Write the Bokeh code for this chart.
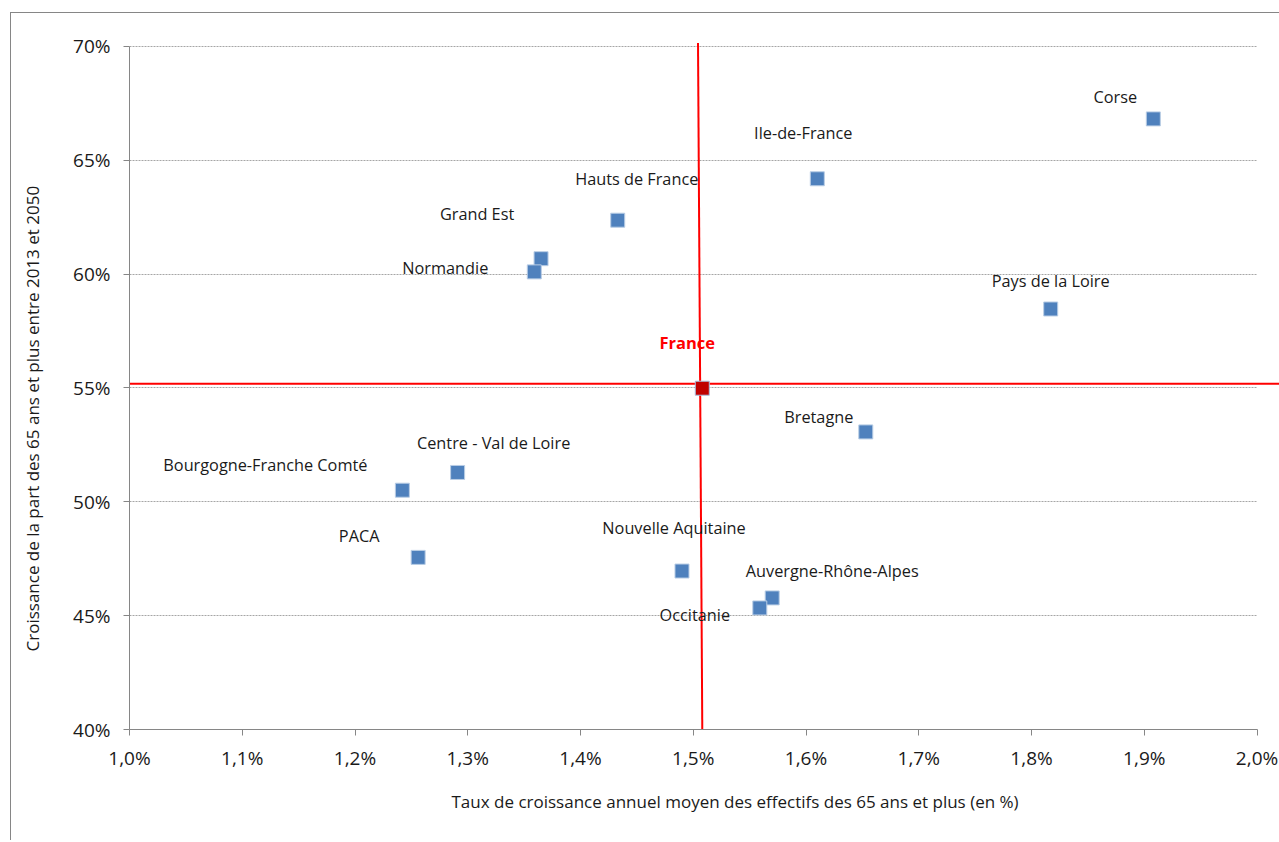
from bokeh.plotting import figure
from bokeh.models import ColumnDataSource, FixedTicker, Title
from bokeh.core.properties import value
from bokeh.embed import file_html
from bokeh.resources import INLINE

# ---- data ----
regions = ["Corse", "Ile-de-France", "Hauts de France", "Grand Est", "Normandie",
           "Pays de la Loire", "Bretagne", "Centre - Val de Loire",
           "Bourgogne-Franche Comté", "PACA", "Nouvelle Aquitaine",
           "Auvergne-Rhône-Alpes", "Occitanie"]
growth_rate = [1.908, 1.610, 1.433, 1.365, 1.359, 1.817, 1.653, 1.291,
               1.242, 1.256, 1.490, 1.570, 1.559]
share_growth = [66.82, 64.19, 62.37, 60.68, 60.10, 58.47, 53.07, 51.29,
                50.51, 47.56, 46.96, 45.78, 45.34]

france_label = ["France"]
france_rate = [1.508]
france_share = [54.99]

# hand-drawn reference lines of the original chart
ref_h_share = 55.19
ref_v_rate = [1.5042, 1.5080]
ref_v_share = [70.15, 40.0]

x_ticks = [1.0, 1.1, 1.2, 1.3, 1.4, 1.5, 1.6, 1.7, 1.8, 1.9, 2.0]
x_tick_labels = ["1,0%", "1,1%", "1,2%", "1,3%", "1,4%", "1,5%", "1,6%",
                 "1,7%", "1,8%", "1,9%", "2,0%"]
y_ticks = [40, 45, 50, 55, 60, 65, 70]
y_tick_labels = ["40%", "45%", "50%", "55%", "60%", "65%", "70%"]

x_title = "Taux de croissance annuel moyen des effectifs des 65 ans et plus (en %)"
y_title = "Croissance de la part des 65 ans et plus entre 2013 et 2050"

# label offsets (pixels) relative to each point
label_dx = [-38, -14, 19, -64, -89, 0, -47, 36, -137, -59, -8, 60, -65]
label_dy = [-22, -46, -41, -45, -4, -28, -15, -29, -25, -21, -43, -27, 7]

FONT = "Open Sans"
X_END = 2.0208

p = figure(width=1269, height=828, output_backend="svg", toolbar_location=None,
           x_range=(1.0, X_END), y_range=(40.0, 70.307),
           min_border_left=118, min_border_right=0, min_border_top=26,
           min_border_bottom=112)
p.margin = (12, 0, 0, 10)
p.outline_line_color = None
p.background_fill_color = "white"
p.border_fill_color = "white"
p.styles = {"border-left": "1px solid #868686", "border-top": "1px solid #868686"}

for ax, ticks, labels in ((p.xaxis, x_ticks, x_tick_labels), (p.yaxis, y_ticks, y_tick_labels)):
    ax.ticker = FixedTicker(ticks=ticks)
    ax.major_label_overrides = {t: l for t, l in zip(ticks, labels)}
    ax.axis_line_color = "#868686"
    ax.major_tick_line_color = "#868686"
    ax.major_tick_out = 6
    ax.major_tick_in = 0
    ax.minor_tick_line_color = None
    ax.major_label_text_font = FONT
    ax.major_label_text_font_size = "19px"
    ax.major_label_text_color = "#1a1a1a"

p.xaxis.bounds = (1.0, 2.0)
p.yaxis.bounds = (40, 70)
p.xaxis.major_label_standoff = 9
p.yaxis.major_label_standoff = 13
# blank spacer label to push the y title outward
p.yaxis.axis_label = " "
p.yaxis.axis_label_text_font_size = "1px"
p.yaxis.axis_label_standoff = 15

p.xgrid.grid_line_color = None
p.ygrid.ticker = FixedTicker(ticks=y_ticks[1:])
p.ygrid.grid_line_color = "#a6a6a6"
p.ygrid.grid_line_dash = "2 1"
p.ygrid.grid_line_width = 1
p.ygrid.cross_bounds = (1.0, 2.0)

# reference lines
p.segment(x0=[1.0], y0=[ref_h_share], x1=[X_END], y1=[ref_h_share],
          line_color="#ff0000", line_width=2)
p.line(ref_v_rate, ref_v_share, line_color="#ff0000", line_width=2)

src = ColumnDataSource(dict(x=growth_rate, y=share_growth, name=regions,
                            dx=label_dx, dy=label_dy))
p.scatter("x", "y", source=src, marker="square", size=14,
          fill_color="#4f81bd", line_color="#b9cde5", line_width=1)
p.text("x", "y", text="name", source=src, x_offset="dx", y_offset="dy",
       text_align="center", text_baseline="middle",
       text_font=value(FONT), text_font_size="16.3px", text_color="#1a1a1a")

fsrc = ColumnDataSource(dict(x=france_rate, y=france_share, name=france_label))
p.scatter("x", "y", source=fsrc, marker="square", size=14,
          fill_color="#c00000", line_color="#a8bfe0", line_width=1)
p.text("x", "y", text="name", source=fsrc, x_offset=-15, y_offset=-46,
       text_align="center", text_baseline="middle",
       text_font=value(FONT), text_font_size="16.5px", text_font_style="bold",
       text_color="#ff0000")

# axis titles
p.add_layout(Title(text=x_title, align="left", offset=322, standoff=28,
                   text_font=FONT, text_font_size="17px",
                   text_font_style="normal", text_color="#1a1a1a"), "below")
p.add_layout(Title(text=y_title, align="left", offset=78, standoff=14,
                   text_font=FONT, text_font_size="17px",
                   text_font_style="normal", text_color="#1a1a1a"), "left")

open("out.html", "w").write(file_html(p, INLINE))
